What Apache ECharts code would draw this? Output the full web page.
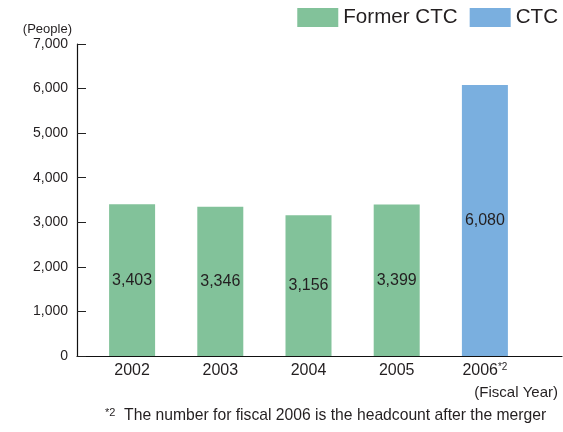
<!DOCTYPE html>
<html>
<head>
<meta charset="utf-8">
<script src="https://cdn.jsdelivr.net/npm/echarts@6/dist/echarts.min.js"></script>
<style>html,body{margin:0;padding:0;background:#fff}#c{width:563px;height:432px}</style>
</head>
<body>
<div id="c"></div>
<script>
const categories = ['2002', '2003', '2004', '2005', '2006'];
const formerCTC = [3403, 3346, 3156, 3399, null];
const ctc = [null, null, null, null, 6080];
const yTicks = { min: 0, max: 7000, interval: 1000 };
const seriesNames = ['Former CTC', 'CTC'];
const noteCategory = '2006';
const noteMark = '*2';
const footnote = 'The number for fiscal 2006 is the headcount after the merger';

const FONT = '"Liberation Sans", Arial, Helvetica, sans-serif';
const TXT = '#231f20';
const chart = echarts.init(document.getElementById('c'), null, { renderer: 'canvas' });
const fmt = v => Number(v).toLocaleString('en-US');

chart.setOption({
  animation: false,
  textStyle: { fontFamily: FONT, color: TXT },
  legend: {
    right: 0, top: 2, itemWidth: 41, itemHeight: 19, itemGap: 12, icon: 'rect',
    textStyle: { fontSize: 20.6, color: TXT, fontFamily: FONT },
    data: seriesNames
  },
  title: [
    { text: '(Fiscal Year)', right: 0, top: 380, textStyle: { fontSize: 15, fontWeight: 'normal', color: TXT, fontFamily: FONT } },
    { text: '{sup|' + noteMark + '}{t|  ' + footnote + '}', left: 100, top: 402,
      textStyle: { fontSize: 15.7, fontWeight: 'normal', color: TXT, fontFamily: FONT,
        rich: { sup: { fontSize: 11, verticalAlign: 'top', color: TXT, fontFamily: FONT, lineHeight: 18 },
                t: { fontSize: 15.7, color: TXT, fontFamily: FONT, lineHeight: 18 } } } }
  ],
  grid: [
    { left: 77, right: 1, top: 44, bottom: 76 },
    { left: 88, width: 441, top: 44, bottom: 76 }
  ],
  xAxis: [
    { gridIndex: 0, type: 'value', min: 0, max: 1, axisLine: { show: true, onZero: false, lineStyle: { color: '#111', width: 1.2 } },
      axisTick: { show: false }, axisLabel: { show: false }, splitLine: { show: false } },
    { gridIndex: 1, type: 'category', data: categories, axisLine: { show: false }, axisTick: { show: false },
      axisLabel: { interval: 0, margin: 6, fontSize: 16, color: TXT, fontFamily: FONT,
        formatter: v => v === noteCategory ? '{n|' + v + '}{sup|' + noteMark + '}' : '{n|' + v + '}',
        rich: { n: { fontSize: 16, color: TXT, fontFamily: FONT, lineHeight: 18 },
                sup: { fontSize: 10, verticalAlign: 'top', color: TXT, fontFamily: FONT, lineHeight: 18 } } } }
  ],
  yAxis: [
    { gridIndex: 0, type: 'value', min: yTicks.min, max: yTicks.max, interval: yTicks.interval,
      name: '(People)', nameLocation: 'end', nameGap: 8,
      nameTextStyle: { fontSize: 13, color: TXT, align: 'right', padding: [0, 5, 0, 0], fontFamily: FONT },
      axisLine: { show: true, lineStyle: { color: '#111', width: 1.2 } },
      axisTick: { show: true, inside: true, length: 9, lineStyle: { color: '#222', width: 1 } },
      axisLabel: { margin: 9, fontSize: 14, color: TXT, fontFamily: FONT, formatter: fmt },
      splitLine: { show: false } },
    { gridIndex: 1, type: 'value', min: yTicks.min, max: yTicks.max, show: false, splitLine: { show: false } }
  ],
  series: [
    { name: seriesNames[0], type: 'bar', xAxisIndex: 1, yAxisIndex: 1, stack: 'a', barWidth: 46,
      data: formerCTC, itemStyle: { color: '#82c29a' },
      label: { show: true, position: 'inside', fontSize: 16, color: TXT, fontFamily: FONT, formatter: p => fmt(p.value) } },
    { name: seriesNames[1], type: 'bar', xAxisIndex: 1, yAxisIndex: 1, stack: 'a', barWidth: 46,
      data: ctc, itemStyle: { color: '#7aafdf' },
      label: { show: true, position: 'inside', fontSize: 16, color: TXT, fontFamily: FONT, formatter: p => fmt(p.value) } }
  ]
});
</script>
</body>
</html>
